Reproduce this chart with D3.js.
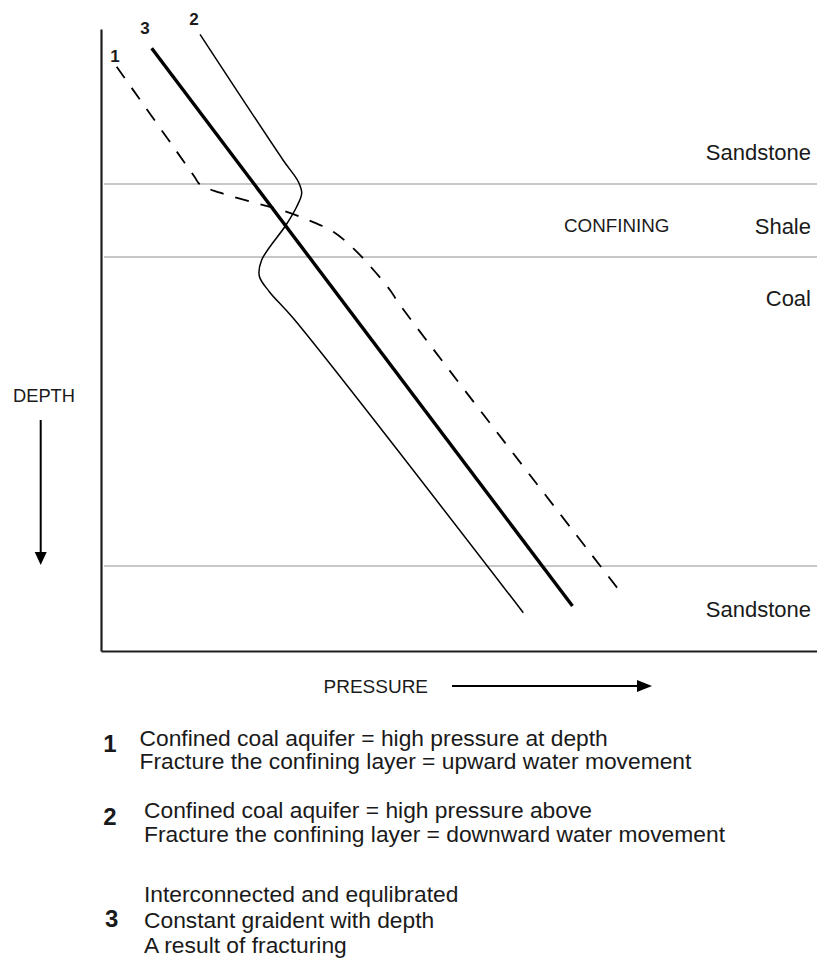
<!DOCTYPE html>
<html><head><meta charset="utf-8">
<script src="https://cdn.jsdelivr.net/npm/d3@7"></script>
<style>
body{margin:0;background:#fff}
svg{display:block}
text{font-family:"Liberation Sans",Arial,sans-serif;fill:#1a1a1a}
</style>
</head><body>
<svg id="chart" width="817" height="959"></svg>
<script>
// ---- data (pressure 0-100, depth 0-100, conceptual units) ----
const curveIds = ["1", "2", "3"];
const curve1 = [[2.19,6.06],[12.99,23.63],[13.83,25.0],[16.62,26.32],[21.75,28.02],[25.46,29.21],[28.95,30.71],[32.44,32.59],[35.24,35.26],[37.57,38.10],[40.36,41.96],[41.76,44.37],[72.95,91.11]];
const curve2 = [[13.83,0.85],[25.42,21.06],[27.56,24.55],[28.03,26.41],[27.33,28.57],[25.84,31.51],[22.44,37.14],[22.11,39.71],[23.51,42.23],[26.86,46.51],[58.98,93.84]];
const curve3 = [[7.08,3.10],[65.85,92.77]];
const curveLabelPos = [[1.96,5.26],[13.0,-0.64],[6.15,0.8]];
const boundaryDepths = [24.92, 36.66, 86.33];
const layerNames = ["Sandstone", "Shale", "Coal", "Sandstone"];
const layerLabelDepths = [21.06, 32.96, 44.53, 94.49];
const confiningLabel = {text: "CONFINING", p: 64.66, d: 32.59};
const xLabel = "PRESSURE";
const yLabel = "DEPTH";
const legendNums = ["1", "2", "3"];
const legendLines = [
  ["Confined coal aquifer = high pressure at depth", "Fracture the confining layer = upward water movement"],
  ["Confined coal aquifer = high pressure above", "Fracture the confining layer = downward water movement"],
  ["Interconnected and equlibrated", "Constant graident with depth", "A result of fracturing"]
];

// ---- drawing ----
const svg = d3.select("#chart");
const x = d3.scaleLinear().domain([0, 100]).range([101, 817]);
const y = d3.scaleLinear().domain([0, 100]).range([29, 651]);

// layer boundaries
svg.selectAll("line.layer").data(boundaryDepths).join("line")
  .attr("x1", x(0) + 3).attr("x2", x(100))
  .attr("y1", d => y(d)).attr("y2", d => y(d))
  .attr("stroke", "#b4b4b4").attr("stroke-width", 1.6);

// axes (domain lines only)
const xAxis = svg.append("g").attr("transform", `translate(0,${y(100)})`)
  .call(d3.axisBottom(x).ticks(0).tickSize(0).tickSizeOuter(0));
const yAxis = svg.append("g").attr("transform", `translate(${x(0)},0)`)
  .call(d3.axisLeft(y).ticks(0).tickSize(0).tickSizeOuter(0));
svg.selectAll(".domain").attr("stroke", "#1e1e1e").attr("stroke-width", 2.2);
xAxis.selectAll("text").remove(); yAxis.selectAll("text").remove();

// curves
const line = d3.line().x(d => x(d[0])).y(d => y(d[1])).curve(d3.curveCatmullRom.alpha(0.5));
const curves = [curve1, curve2, curve3];
const styles = [
  {w: 1.8, dash: "14,12"},
  {w: 1.5, dash: null},
  {w: 3.4, dash: null}
];
curves.forEach((c, i) => {
  svg.append("path").datum(c).attr("d", line)
    .attr("fill", "none").attr("stroke", "#000")
    .attr("stroke-width", styles[i].w)
    .attr("stroke-dasharray", styles[i].dash)
    .attr("stroke-linecap", "butt").attr("stroke-linejoin", "round");
});
svg.selectAll("text.cl").data(curveIds).join("text")
  .attr("x", (d, i) => x(curveLabelPos[i][0])).attr("y", (d, i) => y(curveLabelPos[i][1]))
  .attr("text-anchor", "middle").attr("font-size", 17).attr("font-weight", "bold")
  .text(d => d);

// layer names
svg.selectAll("text.layer").data(layerNames).join("text")
  .attr("x", 811).attr("y", (d, i) => y(layerLabelDepths[i]))
  .attr("text-anchor", "end").attr("font-size", 22).text(d => d);
svg.append("text").attr("x", x(confiningLabel.p)).attr("y", y(confiningLabel.d))
  .attr("font-size", 18.8).text(confiningLabel.text);

// axis titles with arrows
svg.append("text").attr("x", 13).attr("y", 401.5).attr("font-size", 18.3).text(yLabel);
svg.append("line").attr("x1", 40.7).attr("x2", 40.7).attr("y1", 420).attr("y2", 554)
  .attr("stroke", "#000").attr("stroke-width", 2);
svg.append("path").attr("d", "M34.7,552 L46.7,552 L40.7,565 Z").attr("fill", "#000");

svg.append("text").attr("x", 323.5).attr("y", 693.3).attr("font-size", 19).text(xLabel);
svg.append("line").attr("x1", 452).attr("x2", 640).attr("y1", 686).attr("y2", 686)
  .attr("stroke", "#000").attr("stroke-width", 2);
svg.append("path").attr("d", "M637,680 L652,686 L637,692 Z").attr("fill", "#000");

// legend
const numPos = [[103.3, 752], [103.3, 825], [105, 927.3]];
const linePos = [[139.5, [745.5, 769.3]], [144, [818, 842]], [144, [901.5, 927.5, 953]]];
legendNums.forEach((n, i) => {
  svg.append("text").attr("x", numPos[i][0]).attr("y", numPos[i][1])
    .attr("font-size", 24).attr("font-weight", "bold").text(n);
  legendLines[i].forEach((t, j) => {
    svg.append("text").attr("x", linePos[i][0]).attr("y", linePos[i][1][j])
      .attr("font-size", 22.8).text(t);
  });
});
</script>
</body></html>
